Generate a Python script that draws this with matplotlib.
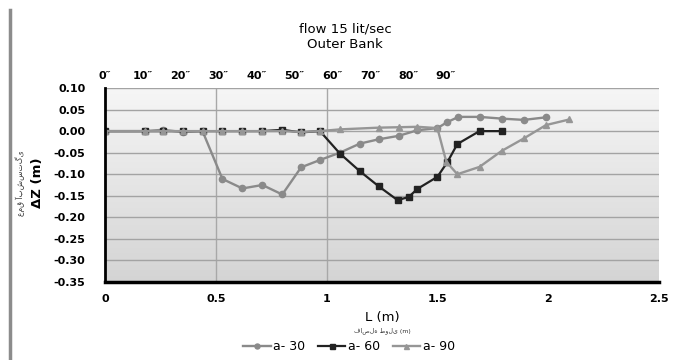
import numpy as np
import matplotlib
matplotlib.use("Agg")
import matplotlib.pyplot as plt
from matplotlib.colors import LinearSegmentedColormap
from matplotlib.lines import Line2D

# distance along the flume (m) and bed change dZ (m) for each abutment angle
L_a30 = [0, 0.18, 0.26, 0.35, 0.44, 0.53, 0.62, 0.71, 0.80, 0.885, 0.97, 1.06,
         1.15, 1.235, 1.325, 1.41, 1.50, 1.545, 1.595, 1.69, 1.79, 1.89, 1.99]
dz_a30 = [0, 0, 0.003, -0.002, 0, -0.111, -0.133, -0.125, -0.147, -0.084, -0.067, -0.05,
          -0.029, -0.019, -0.011, 0.002, 0.007, 0.021, 0.033, 0.033, 0.029, 0.026, 0.032]

L_a60 = [0, 0.18, 0.26, 0.35, 0.44, 0.53, 0.62, 0.71, 0.80, 0.885, 0.97, 1.06,
         1.15, 1.235, 1.32, 1.37, 1.41, 1.50, 1.545, 1.59, 1.69, 1.79]
dz_a60 = [0, 0, 0, 0, 0, 0, 0, 0, 0.003, -0.003, 0, -0.052,
          -0.093, -0.128, -0.16, -0.153, -0.134, -0.106, -0.072, -0.03, 0, 0]

L_a90 = [0, 0.18, 0.26, 0.35, 0.44, 0.53, 0.62, 0.71, 0.80, 0.885, 0.97, 1.06,
         1.235, 1.325, 1.41, 1.50, 1.54, 1.59, 1.69, 1.79, 1.89, 1.99, 2.095]
dz_a90 = [0, 0, 0, 0, 0, 0, 0, 0, 0, -0.002, 0, 0.004,
          0.008, 0.009, 0.01, 0.007, -0.071, -0.1, -0.083, -0.046, -0.017, 0.014, 0.027]

x_ticks = [0, 0.5, 1, 1.5, 2, 2.5]
x_ticklabels = ["0", "0.5", "1", "1.5", "2", "2.5"]
y_ticks = [0.10, 0.05, 0.00, -0.05, -0.10, -0.15, -0.20, -0.25, -0.30, -0.35]
angle_labels = ["0\u2033", "10\u2033", "20\u2033", "30\u2033", "40\u2033",
                "50\u2033", "60\u2033", "70\u2033", "80\u2033", "90\u2033"]
angle_step = 0.171  # spacing of the angle labels along L

fig = plt.figure(figsize=(6.73, 3.6), dpi=100)
ax = fig.add_axes([105 / 673, 1 - 282 / 360, (659 - 105) / 673, (282 - 88) / 360])

# grey gradient plot background
cmap = LinearSegmentedColormap.from_list("bg", ["#f6f6f6", "#d4d4d4"])
ax.imshow(np.linspace(0, 1, 256).reshape(-1, 1), extent=[0, 1, 0, 1],
          transform=ax.transAxes, cmap=cmap, aspect="auto", zorder=0)

ax.plot(L_a30, dz_a30, color="#8a8a8a", lw=1.7, marker="o", ms=4.5, label="a- 30", zorder=3)
ax.plot(L_a60, dz_a60, color="#222222", lw=1.6, marker="s", ms=4.5, label="a- 60", zorder=4)
ax.plot(L_a90, dz_a90, color="#969696", lw=1.7, marker="^", ms=4.5, label="a- 90", zorder=5)

ax.set_xlim(0, 2.5)
ax.set_ylim(-0.35, 0.10)
ax.set_yticks(y_ticks)
ax.set_yticklabels([f"{v:.2f}" for v in y_ticks], fontsize=8, fontweight="bold")
ax.set_xticks(x_ticks)
ax.set_xticklabels(x_ticklabels, fontsize=8, fontweight="bold")
ax.tick_params(axis="both", length=0)
ax.tick_params(axis="x", pad=9)
ax.tick_params(axis="y", pad=14)
ax.yaxis.grid(True, color="#a3a3a3", lw=1, zorder=1)
for xv in [0.5, 1.0]:
    ax.axvline(xv, color="#a8a8a8", lw=1, zorder=1)

for s in ["top", "right"]:
    ax.spines[s].set_visible(False)
ax.spines["left"].set_linewidth(2)
ax.spines["bottom"].set_linewidth(2.5)
ax.spines["left"].set_zorder(6)
ax.spines["bottom"].set_zorder(6)

# angle labels along the top
top = ax.twiny()
top.set_xlim(ax.get_xlim())
top.set_xticks([i * angle_step for i in range(len(angle_labels))])
top.set_xticklabels(angle_labels, fontsize=8, fontweight="bold")
top.tick_params(axis="x", length=0, pad=5)
for s in top.spines.values():
    s.set_visible(False)

fig.text(0.513, 1 - 29 / 360, "flow 15 lit/sec", ha="center", va="center", fontsize=9.5)
fig.text(0.513, 1 - 45 / 360, "Outer Bank", ha="center", va="center", fontsize=9.5)

fig.text(37 / 673, 1 - 183 / 360, "\u0394Z (m)", rotation=90, ha="center", va="center",
         fontsize=9.5, fontweight="bold")
fig.text(20 / 673, 1 - 183 / 360, "عمق آبشستگی", rotation=90, ha="center", va="center",
         fontsize=5.5, color="#333333")

fig.text(382 / 673, 1 - 317 / 360, "L (m)", ha="center", va="center", fontsize=9.5)
fig.text(382 / 673, 1 - 331 / 360, "فاصله طولی (m)", ha="center", va="center",
         fontsize=4.5, color="#333333")

fig.legend(loc="center", bbox_to_anchor=(349 / 673, 1 - 347 / 360), ncol=3, frameon=False,
           fontsize=9, handlelength=2.2, handletextpad=0.2, columnspacing=1.0, markerscale=0.8)

# page border line on the left
fig.add_artist(Line2D([10 / 673, 10 / 673], [0, 1 - 10 / 360], transform=fig.transFigure,
                      color="#8c8c8c", lw=2.5))

fig.savefig("out.png", dpi=100)
